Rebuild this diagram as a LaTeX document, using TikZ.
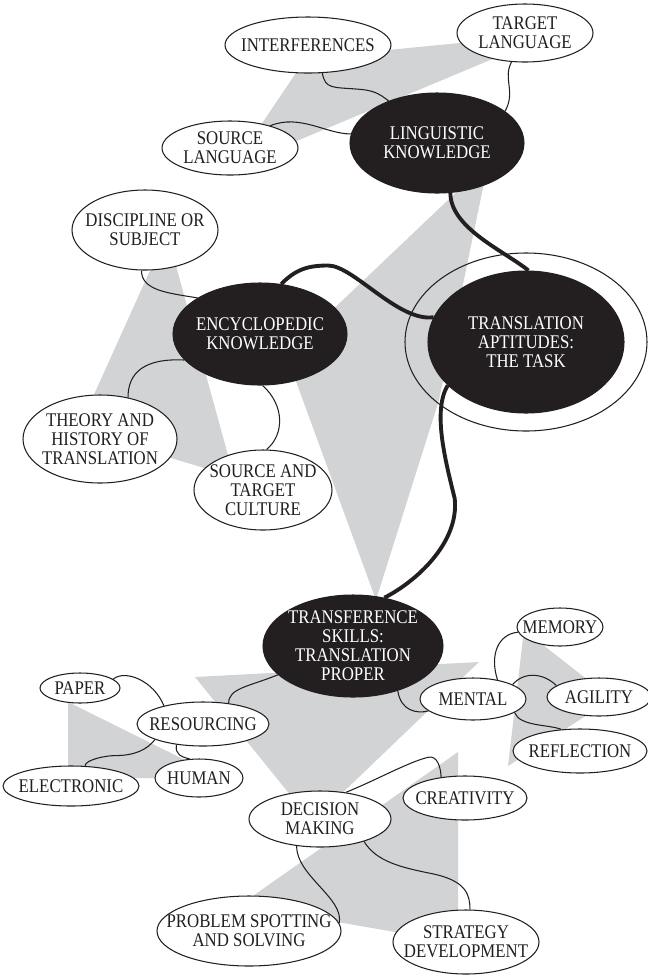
\documentclass[tikz,border=0pt]{standalone}
\usepackage{fontspec}
\setmainfont{Liberation Serif}[FakeStretch=0.87]
\usetikzlibrary{shapes.geometric}
\definecolor{wedge}{RGB}{209,211,212}
\definecolor{ink}{RGB}{35,31,32}
\tikzset{
  sz/.style 2 args={minimum width=#1*0.02cm, minimum height=#2*0.02cm},
  leaf/.style={ellipse, draw=ink, line width=0.6pt, fill=white, inner sep=-40pt,
    align=center, text=ink, font=\fontsize{11}{10.8}\selectfont},
  hub/.style={leaf, fill=ink, text=white},
  ring/.style={ellipse, draw=ink, line width=0.6pt, inner sep=-40pt},
  twig/.style={draw=ink, line width=0.6pt},
  limb/.style={draw=ink, line width=2.2pt},
}
\begin{document}
\begin{tikzpicture}[x=0.02cm, y=-0.02cm]
\useasboundingbox (0,0) rectangle (648,975);
% Wedges
\fill[wedge] (306,58) -- (480,41) -- (495,58) -- (232,168) -- cycle; % linguistic wedge
\fill[wedge] (466,183) -- (484,183) -- (439,400) -- (376,600) -- (286,354) -- cycle; % middle wedge
\fill[wedge] (157,255) -- (173,255) -- (234,477) -- (78,430) -- cycle; % encyclopedic wedge
\fill[wedge] (195,677) -- (479,662) -- (312,822) -- cycle; % transference wedge
\fill[wedge] (68,702) -- (195,765) -- (190,778) -- (68,778) -- cycle; % resourcing wedge
\fill[wedge] (524,630) -- (612,699) -- (508,766) -- cycle; % mental wedge
\fill[wedge] (240,905) -- (458,752) -- (458,943) -- cycle; % decision wedge
% Linguistic
\node[leaf, sz={166}{56}] (intf) at (308,45) {INTERFERENCES};
\node[leaf, sz={136}{58}] (tgt) at (525,33) {TARGET\\LANGUAGE};
\node[leaf, sz={136}{54}] (src) at (230,148) {SOURCE\\LANGUAGE};
\node[hub, sz={174}{100}] (ling) at (437,143) {LINGUISTIC\\KNOWLEDGE};
% Encyclopedic
\node[leaf, sz={146}{80}] (disc) at (145,230) {DISCIPLINE OR\\SUBJECT};
\node[hub, sz={174}{102}] (ency) at (260,334) {ENCYCLOPEDIC\\KNOWLEDGE};
\node[leaf, sz={154}{88}] (theo) at (100,439) {THEORY AND\\HISTORY OF\\TRANSLATION};
\node[leaf, sz={138}{80}] (stc) at (263,490) {SOURCE AND\\TARGET\\CULTURE};
% Task
\node[ring, sz={242}{178}] (tring) at (526,342) {};
\node[hub, sz={196}{142}] (ta) at (526,342) {TRANSLATION\\APTITUDES:\\THE TASK};
% Transference
\node[hub, sz={180}{102}] (trans) at (353,646) {TRANSFERENCE\\SKILLS:\\TRANSLATION\\PROPER};
\node[leaf, sz={86}{38}] (mem) at (560,627) {MEMORY};
\node[leaf, sz={106}{42}] (ment) at (473,699) {MENTAL};
\node[leaf, sz={104}{38}] (agil) at (599,697) {AGILITY};
\node[leaf, sz={134}{44}] (refl) at (580,751) {REFLECTION};
\node[leaf, sz={80}{30}] (paper) at (80,688) {PAPER};
\node[leaf, sz={132}{44}] (res) at (203,724) {RESOURCING};
\node[leaf, sz={136}{40}] (elec) at (71,786) {ELECTRONIC};
\node[leaf, sz={88}{38}] (human) at (199,778) {HUMAN};
\node[leaf, sz={142}{56}] (dec) at (320,819) {DECISION\\MAKING};
\node[leaf, sz={124}{44}] (crea) at (465,798) {CREATIVITY};
\node[leaf, sz={184}{70}] (prob) at (249,931) {PROBLEM SPOTTING\\AND SOLVING};
\node[leaf, sz={146}{64}] (strat) at (466,942) {STRATEGY\\DEVELOPMENT};
% Thin links
\draw[twig] (intf.-63) .. controls +(3,16) and +(-25,-2) .. ++(35,16) .. controls +(15,1) and +(-10,-8) .. (ling.139);
\draw[twig] (src.29) .. controls +(30,-12) and +(-25,0) .. (ling.174);
\draw[twig] (tgt.-115) .. controls +(-9,17) and +(11,-20) .. (ling.25);
\draw[twig] (disc.-95) .. controls +(0,20) and +(-30,-5) .. (ency.150);
\draw[twig] (ency.199) .. controls +(-40,-2) and +(0,-25) .. (theo.56);
\draw[twig] (ency.-87) .. controls +(22,20) and +(18,-15) .. (stc.85);
\draw[twig] (trans.201) .. controls +(-30,12) and +(0,-15) .. (res.39);
\draw[twig] (paper.15) .. controls +(12,-10) and +(-10,-25) .. (res.155);
\draw[twig] (res.198) .. controls +(-8,10) and +(20,0) .. ++(-40,16) .. controls +(-10,0) and +(0,-6) .. (elec.55);
\draw[twig] (res.218) .. controls +(-2,10) and +(-8,-2) .. (human.116);
\draw[twig] (trans.-45) .. controls +(3,20) and +(-12,3) .. (ment.195);
\draw[twig] (ment.38) .. controls +(-8,-25) and +(-20,2) .. (mem.187);
\draw[twig] (ment.20) .. controls +(12,-14) and +(-12,-12) .. (agil.165);
\draw[twig] (ment.-18) .. controls +(5,14) and +(-12,-5) .. (refl.131);
\draw[twig] (dec.46) .. controls +(30,-12) and +(-20,5) .. ++(82,-35) .. controls +(10,-3) and +(0,-8) .. (crea.139);
\draw[twig] (dec.-131) .. controls +(0,30) and +(5,-25) .. (prob.5);
\draw[twig] (dec.-27) .. controls +(12,20) and +(-30,-6) .. ++(67,32) .. controls +(35,7) and +(0,-15) .. (strat.83);
% Thick links
\draw[limb] (ling.-75) .. controls +(0,35) and +(-25,-20) .. (ta.88);
\draw[limb] (ency.67) .. controls +(15,-15) and +(-20,0) .. ++(47,-18.5) .. controls +(25,0) and +(-35,5) .. (ta.165);
\draw[limb] (ta.209) .. controls +(-15,25) and +(-10,-40) .. ++(7,113) .. controls +(5,45) and +(30,-15) .. (trans.57);
\end{tikzpicture}
\end{document}
